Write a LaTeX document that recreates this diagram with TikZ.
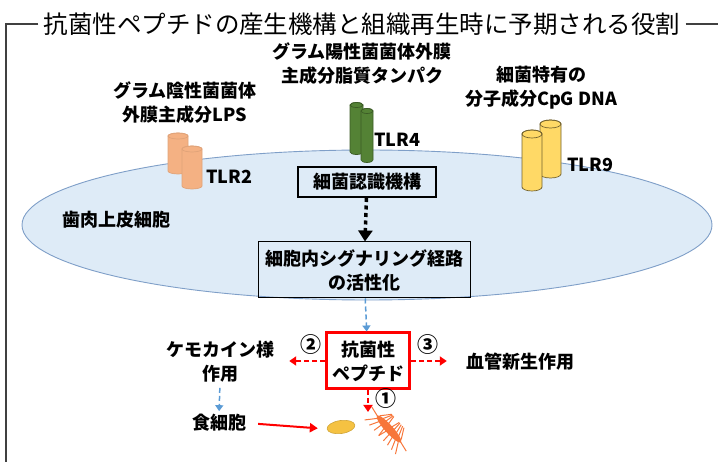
\documentclass[tikz,border=0pt]{standalone}
\usepackage{fontspec}
\setmainfont{Noto Sans CJK JP}
\usetikzlibrary{shapes,arrows.meta,positioning,calc}

\definecolor{cellfill}{HTML}{DEEBF7}
\definecolor{cellline}{HTML}{7F9FC8}
\definecolor{sigblue}{HTML}{5B9BD5}
\definecolor{tlrorange}{HTML}{F4B183}
\definecolor{tlrgreen}{HTML}{548235}
\definecolor{tlryellow}{HTML}{FFD966}
\definecolor{bactorange}{HTML}{F7763A}
\definecolor{neutyellow}{HTML}{F5C242}

% receptor cylinder: x, top, bottom, half width, end radius, fill, line
\newcommand{\tlrcyl}[7]{%
  \filldraw[fill=#6, draw=#7, line width=0.7pt]
    (#1-#4,#2) -- (#1-#4,#3) arc[start angle=180, end angle=360, x radius=#4pt, y radius=#5pt]
    -- (#1+#4,#2) arc[start angle=0, end angle=180, x radius=#4pt, y radius=#5pt] -- cycle;
  \draw[draw=#7, line width=0.7pt] (#1,#2) ellipse[x radius=#4pt, y radius=#5pt];
}

\tikzset{
  lbl/.style={font=\fontsize{18}{24}\selectfont\bfseries, align=center, inner sep=0pt},
  num/.style={font=\fontsize{21}{21}\selectfont\bfseries, inner sep=0pt},
  frame/.style={draw=black!75, line width=1.3pt},
  redarr/.style={red, line width=2pt, dash pattern=on 5pt off 3pt,
    -{Triangle[width=9pt,length=7pt]}},
  bluearr/.style={sigblue, line width=1.5pt, dash pattern=on 5pt off 3pt,
    -{Triangle[width=8pt,length=6pt]}},
  spike/.style={bactorange, line width=1pt}
}

\begin{document}
\begin{tikzpicture}[x=1pt, y=-1pt]
    \useasboundingbox (0,0) rectangle (718,462);

    % Title and frame
    \node[font=\fontsize{24.5}{28}\selectfont, inner xsep=5pt, inner ysep=0pt] (title) at (362,24)
        {抗菌性ペプチドの産生機構と組織再生時に予期される役割};
    \coordinate (tl) at (6,24);
    \coordinate (bl) at (6,462);
    \coordinate (tr) at (718,24);
    \draw[frame] (title.west) -- (tl) -- (bl);
    \draw[frame] (title.east) -- (tr);

    % Gingival epithelial cell
    \node[ellipse, draw=cellline, fill=cellfill, line width=0.9pt, inner sep=0pt,
        minimum width=690, minimum height=150] (cell) at (367,225) {};
    \node[lbl] (gum) at (116,220) {歯肉上皮細胞};

    % Receptors
    \tlrcyl{178}{136}{171}{10}{3}{tlrorange}{tlrorange!92!black}
    \tlrcyl{192}{149}{186}{10}{3}{tlrorange}{tlrorange!92!black}
    \tlrcyl{356.5}{105}{152}{6.5}{2.5}{tlrgreen}{tlrgreen!70!black}
    \tlrcyl{367}{111}{160}{6}{2.5}{tlrgreen}{tlrgreen!70!black}
    \tlrcyl{550.5}{124}{174}{10.5}{4}{tlryellow}{tlryellow!45!black}
    \tlrcyl{532}{134}{187}{10}{4}{tlryellow}{tlryellow!45!black}
    \node[lbl] (tlr2) at (229,177) {TLR2};
    \node[lbl] (tlr4) at (397,140) {TLR4};
    \node[lbl] (tlr9) at (590,165) {TLR9};

    % Ligands
    \node[lbl] (lps) at (185,103) {グラム陰性菌菌体\\外膜主成分LPS};
    \node[lbl] (lipo) at (362,64) {グラム陽性菌菌体外膜\\主成分脂質タンパク};
    \node[lbl] (cpg) at (541,88) {細菌特有の\\分子成分CpG DNA};

    % Signalling boxes
    \node[lbl, draw, line width=2pt, minimum width=138, minimum height=30] (recog) at (367,182) {細菌認識機構};
    \node[lbl, draw, line width=1pt, minimum width=212, minimum height=56] (signal) at (364,270)
        {細胞内シグナリング経路\\の活性化};
    \draw[line width=3.5pt, dash pattern=on 4pt off 3.5pt, -{Triangle[width=14pt,length=11pt]}]
        (recog) -- (signal);

    % Antimicrobial peptide and its effects
    \node[lbl, draw=red, line width=3pt, minimum width=83, minimum height=56] (amp) at (368,361) {抗菌性\\ペプチド};
    \draw[bluearr] (signal) -- (amp);

    \node[lbl] (chemo) at (220,362) {ケモカイン様\\作用};
    \node[lbl] (angio) at (520,362) {血管新生作用};
    \node[lbl] (phago) at (219,423) {食細胞};
    \node[num] (n1) at (386,399) {①};
    \node[num] (n2) at (311,345) {②};
    \node[num] (n3) at (428,345) {③};

    \draw[redarr, shorten >=15pt] (amp.west) -- (chemo.east |- amp.west);
    \draw[redarr, shorten >=19pt] (amp.east) -- (angio.west |- amp.east);
    \coordinate (hit) at (368,412);
    \draw[redarr] (amp.south) -- (hit);
    \draw[bluearr, shorten <=5pt, shorten >=3pt] (chemo.south) -- (phago.north);

    % Phagocyte and bacterium
    \node[ellipse, fill=neutyellow, draw=neutyellow!85!black, line width=0.6pt, inner sep=0pt,
        minimum width=28, minimum height=13, rotate=8] (neut) at (341,427) {};
    \draw[red, line width=2pt, -{Triangle[width=9pt,length=8pt]}, shorten <=12pt, shorten >=9pt]
        (phago.east) -- (neut.west);

    \coordinate (bact) at (389,429);
    \begin{scope}[shift={(bact)}, rotate=-48]
        \foreach \t/\d in {-16/-7,-12/-4,-8/-1,-4/2,0/-2,4/1,8/3,12/5,16/7} {
            \draw[spike] (\t,2) -- (\t+\d,12);
            \draw[spike] (\t,-2) -- (\t-\d,-12);
        }
        \draw[spike] (-17,0) -- (-28,-2);
        \draw[spike] (17,0) -- (28,2);
    \end{scope}
    \node[ellipse, fill=bactorange, inner sep=0pt, minimum width=36, minimum height=8, rotate=-48] (bactbody) at (bact) {};
\end{tikzpicture}
\end{document}
